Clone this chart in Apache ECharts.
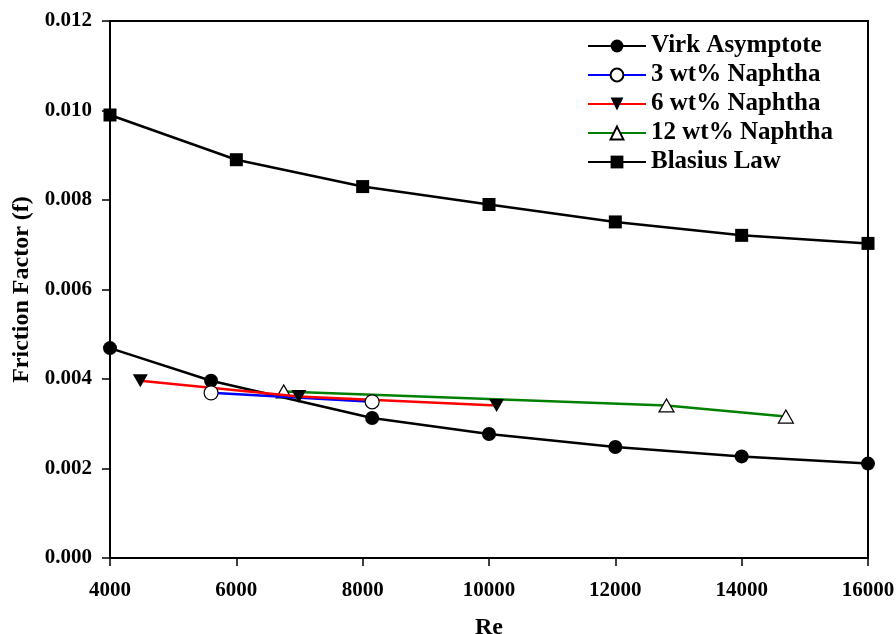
<!DOCTYPE html>
<html><head><meta charset="utf-8">
<script src="https://cdn.jsdelivr.net/npm/echarts@6/dist/echarts.min.js"></script>
<style>html,body{margin:0;padding:0;background:#fff}#c{width:896px;height:634px}</style>
</head><body><div id="c"></div>
<script>
const xTicks = [4000, 6000, 8000, 10000, 12000, 14000, 16000];
const virkRe = [4000, 5600, 8150, 10000, 12000, 14000, 16000];
const virkF = [0.00469, 0.00396, 0.00313, 0.00277, 0.00248, 0.00227, 0.00211];
const n3Re = [5600, 8150];
const n3F = [0.00369, 0.00349];
const n6Re = [4480, 6990, 10120];
const n6F = [0.00396, 0.00361, 0.00341];
const n12Re = [6750, 12810, 14700];
const n12F = [0.00372, 0.00341, 0.00316];
const blaRe = [4000, 6000, 8000, 10000, 12000, 14000, 16000];
const blaF = [0.00990, 0.00890, 0.00830, 0.00790, 0.00751, 0.00721, 0.00703];
const seriesNames = ['Virk Asymptote', '3 wt% Naphtha', '6 wt% Naphtha', '12 wt% Naphtha', 'Blasius Law'];

const font = 'Liberation Serif';
const pair = (xs, ys) => xs.map((x, i) => [x, ys[i]]);
const downTri = 'path://M0,0 L10,0 L5,9 Z';
const legendText = {fontFamily: font, fontWeight: 'bold', fontSize: 25, color: '#000', lineHeight: 26};

const chart = echarts.init(document.getElementById('c'), null, {renderer: 'canvas'});
chart.setOption({
  animation: false,
  backgroundColor: '#fff',
  grid: {left: 110, right: 28, top: 21, bottom: 76, outerBoundsMode: 'none', containLabel: false,
    show: true, borderColor: '#000', borderWidth: 2, backgroundColor: 'transparent'},
  legend: {
    orient: 'vertical', left: 582, top: 28,
    itemWidth: 58, itemHeight: 16, itemGap: 3,
    textStyle: legendText,
    data: seriesNames.map(n => ({name: n, textStyle: legendText}))
  },
  xAxis: {
    type: 'value', min: 4000, max: 16000, interval: 2000,
    name: 'Re', nameLocation: 'middle', nameGap: 58,
    nameTextStyle: {fontFamily: font, fontWeight: 'bold', fontSize: 24, color: '#000'},
    axisLine: {lineStyle: {color: '#000', width: 2}},
    axisTick: {show: true, length: 8, lineStyle: {color: '#000', width: 1.5}},
    axisLabel: {margin: 22, fontFamily: font, fontWeight: 'bold', fontSize: 21, color: '#000',
      formatter: v => String(v)},
    splitLine: {show: false}
  },
  yAxis: {
    type: 'value', min: 0, max: 0.012, interval: 0.002,
    name: 'Friction Factor (f)', nameLocation: 'middle', nameGap: 76, nameRotate: 90,
    nameTextStyle: {fontFamily: font, fontWeight: 'bold', fontSize: 24, color: '#000'},
    axisLine: {lineStyle: {color: '#000', width: 2}},
    axisTick: {show: true, length: 8, lineStyle: {color: '#000', width: 1.5}},
    axisLabel: {margin: 18, fontFamily: font, fontWeight: 'bold', fontSize: 21, color: '#000',
      formatter: v => v.toFixed(3)},
    splitLine: {show: false}
  },
  series: [
    {name: seriesNames[0], type: 'line', data: pair(virkRe, virkF), symbol: 'circle', symbolSize: 14,
      lineStyle: {color: '#000', width: 2.5}, itemStyle: {color: '#000'}, z: 3},
    {name: seriesNames[1], type: 'line', data: pair(n3Re, n3F), symbol: 'circle', symbolSize: 14,
      lineStyle: {color: '#0000ff', width: 2.5}, itemStyle: {color: '#fff', borderColor: '#000', borderWidth: 1.2}, z: 4},
    {name: seriesNames[2], type: 'line', data: pair(n6Re, n6F), symbol: downTri, symbolSize: [15, 13],
      lineStyle: {color: '#ff0000', width: 2.5}, itemStyle: {color: '#000'}, z: 4},
    {name: seriesNames[3], type: 'line', data: pair(n12Re, n12F), symbol: 'triangle', symbolSize: [15, 13],
      lineStyle: {color: '#008000', width: 2.5}, itemStyle: {color: '#fff', borderColor: '#000', borderWidth: 1.2}, z: 2},
    {name: seriesNames[4], type: 'line', data: pair(blaRe, blaF), symbol: 'rect', symbolSize: 13,
      lineStyle: {color: '#000', width: 2.5}, itemStyle: {color: '#000'}, z: 3}
  ]
});
</script></body></html>
